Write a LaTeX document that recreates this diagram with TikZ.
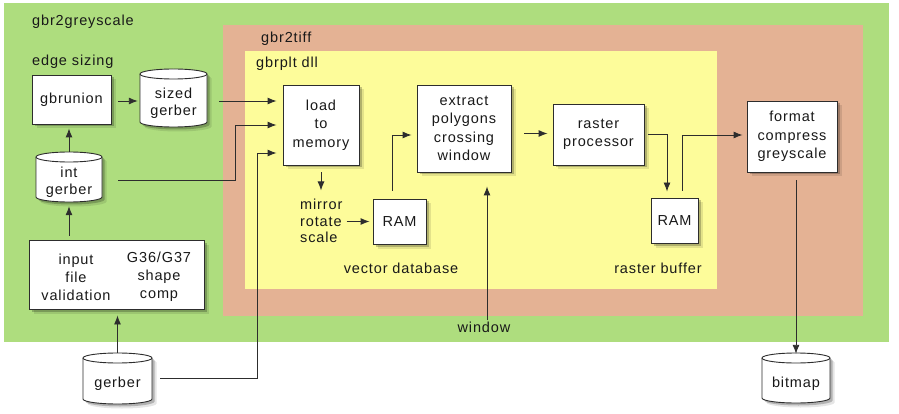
\documentclass[tikz,border=0pt]{standalone}
\usepackage{fontspec}
\setmainfont{Liberation Sans}[LetterSpace=6]
\usetikzlibrary{arrows.meta,shadows}
\definecolor{cgreen}{RGB}{174,221,126}
\definecolor{csalmon}{RGB}{228,178,148}
\definecolor{cyellow}{RGB}{253,252,154}
\definecolor{cline}{RGB}{45,45,45}
\definecolor{ctext}{RGB}{25,25,25}
\tikzset{
  softshadow/.style={drop shadow={shadow xshift=2.5pt,shadow yshift=-2.5pt,opacity=.22,fill=black},
                     drop shadow={shadow xshift=4.5pt,shadow yshift=-4.5pt,opacity=.10,fill=black}},
  box/.style={draw=cline,fill=white,line width=.9pt,align=center,inner sep=0pt,softshadow,text=ctext},
  cylbody/.style={draw=cline,fill=white,line width=.9pt,softshadow},
  cyltext/.style={inner sep=0pt,align=center,text=ctext,font=\fontsize{14.5}{17.5}\selectfont},
  lbl/.style={text=ctext,inner sep=0pt,align=center},
  arr/.style={draw=cline,line width=.9pt,-{Latex[length=9pt,width=7pt]}},
  plain/.style={draw=cline,line width=.9pt},
}
% name, cx, cy, w, h, text
\newcommand\mycyl[6]{%
  \path[cylbody] ({#2-#4/2},{#3+#5/2-5}) -- ({#2-#4/2},{#3-#5/2+5})
     arc[start angle=180,end angle=360,x radius={#4/2},y radius=5]
     -- ({#2+#4/2},{#3+#5/2-5})
     arc[start angle=0,end angle=180,x radius={#4/2},y radius=5] -- cycle;
  \draw[plain] ({#2-#4/2},{#3+#5/2-5}) arc[start angle=180,end angle=360,x radius={#4/2},y radius=5];
  \node[inner sep=0pt,minimum width=#4pt,minimum height=#5pt] (#1) at (#2,#3) {};
  \node[cyltext] (#1-t) at (#2,{#3-5.5}) {#6};
}
\begin{document}
\begin{tikzpicture}[x=1pt,y=1pt,font=\fontsize{14.5}{18.5}\selectfont]
\useasboundingbox (0,0) rectangle (899,-414);
\fill[white] (0,0) rectangle (899,-414);
% regions
\fill[cgreen] (4,-3) rectangle (889,-342);
\fill[csalmon] (223,-25) rectangle (863,-316);
\fill[cyellow] (245,-51) rectangle (717,-289);
% region labels
\node[lbl,anchor=west] (tgrey) at (32,-22) {gbr2greyscale};
\node[lbl,anchor=west] (tedge) at (32,-62) {edge sizing};
\node[lbl,anchor=west] (ttiff) at (261,-39) {gbr2tiff};
\node[lbl,anchor=west] (tdll) at (256,-64) {gbrplt dll};
% boxes
\node[box,minimum width=79pt,minimum height=49pt] (gbrunion) at (71.5,-99.5) {gbrunion};
\node[box,minimum width=175pt,minimum height=69pt] (input) at (116.5,-274.5) {};
\node[lbl,font=\fontsize{14.5}{18}\selectfont] (inL) at (76,-277) {input\\file\\validation};
\node[lbl,font=\fontsize{14.5}{18}\selectfont] (inR) at (159,-277) {G36/G37\\shape\\comp};
\node[box,minimum width=76pt,minimum height=80pt] (load) at (321,-125) {load\\to\\memory};
\node[box,minimum width=94pt,minimum height=87pt] (extract) at (464,-128.5) {extract\\polygons\\crossing\\window};
\node[box,minimum width=53pt,minimum height=45pt] (ram1) at (399.5,-221.5) {RAM};
\node[box,minimum width=91pt,minimum height=61pt] (raster) at (598.5,-134.5) {raster\\processor};
\node[box,minimum width=47pt,minimum height=45pt] (ram2) at (674.5,-220.5) {RAM};
\node[box,minimum width=90pt,minimum height=71pt] (format) at (792,-136.5) {format\\compress\\greyscale};
% cylinders
\mycyl{sized}{173.5}{-98}{67}{58}{sized\\gerber}
\mycyl{intg}{69}{-177}{66}{50}{int\\gerber}
\mycyl{gerber}{117.5}{-378.5}{69}{51}{gerber}
\mycyl{bitmap}{796}{-378}{68}{50}{bitmap}
% free labels
\node[lbl,align=left,anchor=west,font=\fontsize{14.5}{16.5}\selectfont] (mirror) at (300,-221) {mirror\\rotate\\scale};
\node[lbl] (vecdb) at (401,-268) {vector database};
\node[lbl] (rbuf) at (658,-268) {raster buffer};
\node[lbl] (window) at (484,-327) {window};
% connectors
\draw[arr] ([xshift=7pt,yshift=-1.5pt]gbrunion.east) -- ([xshift=-2pt,yshift=-1.5pt]gbrunion.east -| sized.west);
\draw[arr] (intg.north) -- ([yshift=-4pt]intg.north |- gbrunion.south);
\draw[arr] ([yshift=4pt]input.north -| intg) -- ([yshift=-4pt]intg.south);
\draw[arr] (gerber.north) -- ([yshift=-6pt]gerber.north |- input.south);
\draw[arr] ([xshift=12pt,yshift=-3pt]sized.east) -- ([xshift=-6pt,yshift=24pt]load.west);
\draw[arr] ([xshift=16pt,yshift=-3pt]intg.east) -- (235,-180) -- (235,-125) -- ([xshift=-6pt]load.west);
\draw[arr] ([xshift=8pt]gerber.east) -- (257,-378.5) -- (257,-153) -- ([xshift=-6pt,yshift=-28pt]load.west);
\draw[arr] ([yshift=-7pt]load.south) -- ([yshift=-25pt]load.south);
\draw[arr] ([xshift=-26pt]ram1.west) -- ([xshift=-3pt]ram1.west);
\draw[arr] ([xshift=-7.5pt,yshift=8pt]ram1.north) -- (392,-135) -- ([xshift=-5pt,yshift=-6.5pt]extract.west);
\draw[arr] ([xshift=13pt,yshift=-5pt]extract.east) -- ([xshift=-5pt,yshift=1pt]raster.west);
\draw[arr] ([xshift=4pt,yshift=.5pt]raster.east) -- (667,-134) -- ([xshift=-7.5pt,yshift=6pt]ram2.north);
\draw[arr] ([xshift=7.5pt,yshift=7pt]ram2.north) -- (682,-135) -- ([xshift=-4pt,yshift=1.5pt]format.west);
\draw[arr] ([xshift=4pt,yshift=-8pt]format.south) -- ([yshift=-1pt]bitmap.north);
\draw[arr] ([xshift=3pt,yshift=1pt]window.north) -- ([xshift=23pt,yshift=-14pt]extract.south);
\end{tikzpicture}
\end{document}
